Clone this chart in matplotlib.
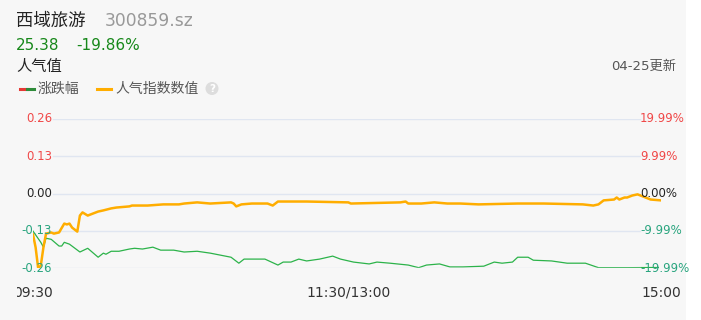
import matplotlib
matplotlib.use('Agg')
from matplotlib import pyplot as plt
from matplotlib.patches import FancyBboxPatch, Ellipse, Rectangle
from matplotlib.transforms import blended_transform_factory

plt.rcParams['font.family'] = ['DejaVu Sans', 'Noto Sans CJK SC']

# popularity index (left axis), minute index 0..241
pop_x = [0, 1, 2, 3, 4, 5, 7, 8, 10, 12, 13, 14, 15, 17, 18, 19, 21, 23, 25, 27,
         30, 32, 37, 38, 44, 50, 56, 58, 63, 68, 76, 77, 78, 80, 84, 90, 92, 94,
         105, 121, 122, 141, 143, 144, 149, 154, 159, 164, 171, 186, 196, 211,
         215, 217, 219, 223, 224, 225, 227, 228, 230, 232, 234, 237, 241]
pop_y = [-0.143, -0.188, -0.262, -0.251, -0.188, -0.140, -0.136, -0.140, -0.136,
         -0.105, -0.108, -0.105, -0.119, -0.133, -0.077, -0.066, -0.077, -0.070,
         -0.063, -0.059, -0.052, -0.049, -0.045, -0.042, -0.042, -0.038, -0.038,
         -0.035, -0.031, -0.035, -0.031, -0.035, -0.045, -0.038, -0.035, -0.035,
         -0.042, -0.028, -0.028, -0.031, -0.035, -0.031, -0.028, -0.035, -0.035,
         -0.031, -0.035, -0.035, -0.038, -0.035, -0.035, -0.038, -0.042, -0.038,
         -0.024, -0.021, -0.014, -0.021, -0.014, -0.014, -0.007, -0.003, -0.010,
         -0.021, -0.024]

# price change in % (right axis)
chg_x = [0, 3, 4, 5, 7, 10, 11, 12, 14, 18, 21, 25, 27, 28, 30, 33, 37, 39, 42,
         46, 49, 54, 58, 63, 68, 76, 79, 81, 85, 89, 94, 96, 99, 102, 105, 110,
         115, 118, 123, 129, 132, 137, 144, 148, 151, 156, 160, 165, 173, 177,
         180, 184, 186, 190, 192, 199, 205, 212, 217, 222, 228, 237, 240]
chg_y = [-10.1, -13.1, -14.4, -12.0, -12.3, -14.1, -14.1, -13.1, -13.6, -15.7,
         -14.7, -17.1, -16.0, -16.3, -15.5, -15.5, -14.9, -14.7, -14.9, -14.4,
         -15.2, -15.2, -15.7, -15.5, -16.0, -17.1, -18.7, -17.6, -17.6, -17.6,
         -19.2, -18.4, -18.4, -17.6, -18.1, -17.6, -16.8, -17.6, -18.4, -18.9,
         -18.4, -18.7, -19.2, -19.9, -19.2, -18.9, -19.7, -19.7, -19.5, -18.4,
         -18.7, -18.4, -17.1, -17.1, -17.9, -18.1, -18.7, -18.7, -19.9, -19.9,
         -19.9, -19.86, -19.86]

left_ticks = [0.26, 0.13, 0.00, -0.13, -0.26]
left_labels = ['0.26', '0.13', '0.00', '-0.13', '-0.26']
right_ticks = [19.99, 9.99, 0.0, -9.99, -19.99]
right_labels = ['19.99%', '9.99%', '0.00%', '-9.99%', '-19.99%']
tick_colors = ['#f04848', '#f04848', '#222222', '#2aa57f', '#2aa57f']
x_labels = ['09:30', '11:30/13:00', '15:00']
x_pos = [0, 121, 241]

W, H = 701, 320
CARD = '#f7f7f7'
fig = plt.figure(figsize=(W / 100, H / 100), dpi=100)
fig.patch.set_facecolor('white')


def fx(px):
    return px / W


def fy(py):
    return 1 - py / H


card = FancyBboxPatch((fx(0), fy(330)), fx(686), 340 / H,
                      boxstyle='round,pad=0,rounding_size=0.012',
                      transform=fig.transFigure, facecolor=CARD,
                      edgecolor='none', zorder=0)
fig.patches.append(card)

# header
fig.text(fx(16), fy(21), '西域旅游', fontsize=12.5, color='#222222', va='center')
fig.text(fx(105), fy(21), '300859.sz', fontsize=12.3, color='#999999', va='center')
fig.text(fx(16), fy(46), '25.38', fontsize=11, color='#17881a', va='center')
fig.text(fx(76), fy(46), '-19.86%', fontsize=11, color='#17881a', va='center')
fig.text(fx(16), fy(66), '人气值', fontsize=11, color='#222222', va='center')
fig.text(fx(676), fy(66), '04-25更新', fontsize=9.5, color='#555555',
         va='center', ha='right')

# legend
fig.lines.append(plt.Line2D([fx(20), fx(27)], [fy(88.5)] * 2, color='#e53935',
                            lw=2.2, transform=fig.transFigure))
fig.lines.append(plt.Line2D([fx(27), fx(34)], [fy(88.5)] * 2, color='#2e8b3a',
                            lw=2.2, transform=fig.transFigure))
fig.text(fx(38), fy(89), '涨跌幅', fontsize=10, color='#555555', va='center')
fig.lines.append(plt.Line2D([fx(97), fx(111)], [fy(88.5)] * 2, color='#ffad00',
                            lw=2.2, transform=fig.transFigure))
fig.text(fx(115), fy(89), '人气指数数值', fontsize=10, color='#555555', va='center')
fig.patches.append(Ellipse((fx(212), fy(88.5)), 13 / W, 13 / H,
                           transform=fig.transFigure, facecolor='#dddddd',
                           edgecolor='none'))
fig.text(fx(212), fy(88.5), '?', fontsize=7.5, color='white', va='center',
         ha='center', weight='bold')

# chart
ax = fig.add_axes([fx(33), fy(268), fx(661) - fx(33), (268 - 119) / H])
ax.set_xlim(0, 241)
ax.set_ylim(-0.26, 0.26)
ax.axis('off')
ax2 = ax.twinx()
ax2.set_xlim(0, 241)
ax2.set_ylim(-19.99, 19.99)
ax2.axis('off')

g0 = (53 - 33) / (661 - 33)
g1 = (640 - 33) / (661 - 33)
for t in left_ticks:
    ax.axhline(t, xmin=g0, xmax=g1, color='#e0e6f1', lw=1, zorder=1)

ax2.plot(chg_x, chg_y, color='#2cb34a', lw=0.9, zorder=3)
ax.plot(pop_x, pop_y, color='#ffad00', lw=1.8, zorder=4)
ax.set_zorder(2)
ax2.set_zorder(1)

tl = blended_transform_factory(fig.transFigure, ax.transData)
tr = blended_transform_factory(fig.transFigure, ax2.transData)
for t, lab, c in zip(left_ticks, left_labels, tick_colors):
    fig.text(fx(52), 0, lab, transform=tl, fontsize=8.5, color=c,
             ha='right', va='center').set_y(t)
for t, lab, c in zip(right_ticks, right_labels, tick_colors):
    fig.text(fx(640), 0, lab, transform=tr, fontsize=8.5, color=c,
             ha='left', va='center').set_y(t)

tx = blended_transform_factory(ax.transData, fig.transFigure)
for p, lab in zip(x_pos, x_labels):
    fig.text(p, fy(293), lab, transform=tx, fontsize=10, color='#333333',
             ha='center', va='center', zorder=3)
# the first time label is cut off at the left edge of the chart
fig.add_artist(Rectangle((0, fy(305)), fx(16.5), 25 / H,
                         transform=fig.transFigure, facecolor=CARD,
                         edgecolor='none', zorder=10))

fig.savefig('out.png', dpi=100, facecolor=fig.get_facecolor())
